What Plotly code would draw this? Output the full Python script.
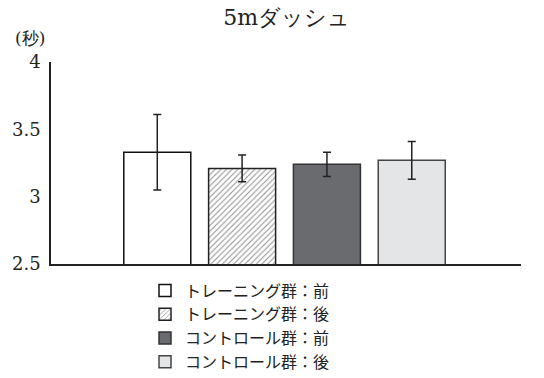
import plotly.graph_objects as go

categories = ["トレーニング群：前", "トレーニング群：後", "コントロール群：前", "コントロール群：後"]
means = [3.33, 3.21, 3.24, 3.27]
errors = [0.28, 0.10, 0.09, 0.14]
positions = [1, 2, 3, 4]

fills = ["#ffffff", "#ffffff", "#6a6b6f", "#e4e5e7"]
borders = ["#111111", "#222222", "#333333", "#444444"]
patterns = ["", "/", "", ""]

SERIF = "DejaVu Serif"
JP = "Noto Sans CJK JP"

fig = go.Figure()
for i in range(4):
    fig.add_trace(go.Bar(
        x=[positions[i]], y=[means[i]], name=categories[i],
        width=0.79,
        marker=dict(color=fills[i], line=dict(color=borders[i], width=1.5),
                    pattern=dict(shape=patterns[i], fgcolor="#222222", bgcolor="#ffffff",
                                 size=4, solidity=0.25)),
        error_y=dict(type="data", array=[errors[i]], color="#222222", thickness=1.5, width=4),
        base=0,
    ))

fig.update_layout(
    width=544, height=378,
    margin=dict(l=51, r=23, t=62, b=114, autoexpand=False),
    plot_bgcolor="white", paper_bgcolor="white",
    title=dict(text="5mダッシュ", x=0.527, xanchor="center", y=0.955, yanchor="middle",
               font=dict(family=SERIF, size=22, color="#222222")),
    showlegend=True,
    legend=dict(x=0.2, xanchor="left", y=-0.047, yanchor="top",
                font=dict(family=JP, size=16, color="#222222"),
                tracegroupgap=0, itemclick=False, bgcolor="rgba(0,0,0,0)"),
    xaxis=dict(range=[-0.253, 5.288], showticklabels=False, showgrid=False, zeroline=False,
               showline=True, linecolor="#222222", linewidth=1.5, ticks=""),
    yaxis=dict(range=[2.5, 4], tickvals=[2.5, 3, 3.5, 4], ticktext=["2.5", "3", "3.5", "4"],
               showgrid=False, zeroline=False, showline=True, linecolor="#222222", linewidth=1.5,
               ticks="", ticklabelstandoff=5,
               tickfont=dict(family=SERIF, size=18, color="#222222")),
    annotations=[dict(text="(秒)", xref="paper", yref="paper", x=-0.045, y=1.119,
                      xanchor="center", yanchor="middle", showarrow=False,
                      font=dict(family=SERIF, size=17, color="#222222"))],
)

fig.write_html("out.html")
